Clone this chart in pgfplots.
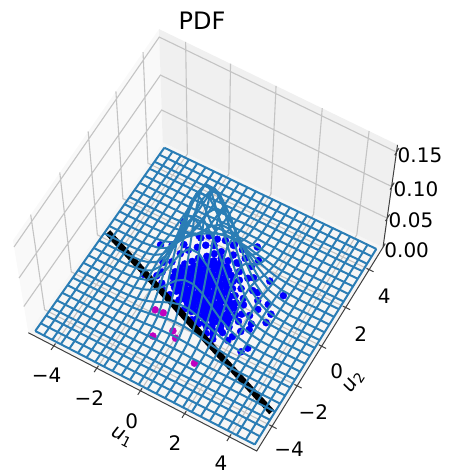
\documentclass[border=0pt]{standalone}
\usepackage{pgfplots}
\usepackage{pgfplotstable}
\usepackage{fontspec}
\setmainfont{DejaVu Sans}
\pgfplotsset{compat=1.18}
\definecolor{wire}{HTML}{2A7DB5}
\definecolor{backw}{HTML}{F0F0F0}
\definecolor{leftw}{HTML}{F9F9F9}
\definecolor{floorw}{HTML}{F6F6F6}
\definecolor{gridc}{HTML}{C4C4C4}
\definecolor{axc}{HTML}{404040}
\definecolor{mag}{HTML}{C000C0}
% projection of (u1,u2,z) on the picture plane
\newcommand\PXe[3]{(219.22*(#1/10.4+0.5)+143.72*(#2/10.4+0.5)+28.3-16.4*((#3)/0.16))/(1-0.03577*(#1/10.4+0.5)+0.05727*(#2/10.4+0.5)-0.0786*((#3)/0.16))}
\newcommand\PYe[3]{(102.17*(#1/10.4+0.5)-182.25*(#2/10.4+0.5)+332.7-123.5*((#3)/0.16))/(1-0.03577*(#1/10.4+0.5)+0.05727*(#2/10.4+0.5)-0.13*((#3)/0.16))}
\pgfplotsset{
 table/abz/.style={x expr={\PXe{\thisrow{a}}{\thisrow{b}}{\thisrow{z}}},y expr={\PYe{\thisrow{a}}{\thisrow{b}}{\thisrow{z}}}},
 table/abneg/.style={x expr={\PXe{\thisrow{a}}{-\thisrow{b}}{\thisrow{z}}},y expr={\PYe{\thisrow{a}}{-\thisrow{b}}{\thisrow{z}}}},
 table/baz/.style={x expr={\PXe{\thisrow{b}}{\thisrow{a}}{\thisrow{z}}},y expr={\PYe{\thisrow{b}}{\thisrow{a}}{\thisrow{z}}}},
 table/bnegaz/.style={x expr={\PXe{-\thisrow{b}}{\thisrow{a}}{\thisrow{z}}},y expr={\PYe{-\thisrow{b}}{\thisrow{a}}{\thisrow{z}}}},
 table/flat/.style={x expr={\PXe{\thisrow{a}}{\thisrow{b}}{0}},y expr={\PYe{\thisrow{a}}{\thisrow{b}}{0}}}
}
\pgfplotstableread{
a b z
-5.2 -5.2 0
5.2 -5.2 0
5.2 5.2 0
-5.2 5.2 0
}\floorpane
\pgfplotstableread{
a b z
-5.2 -5.2 0
-5.2 5.2 0
-5.2 5.2 0.16
-5.2 -5.2 0.16
}\leftpane
\pgfplotstableread{
a b z
-5.2 5.2 0
5.2 5.2 0
5.2 5.2 0.16
-5.2 5.2 0.16
}\backpane
\pgfplotstableread{
a b z
-4 -5.2 0
-4 5.2 0
-4 5.2 0.16
0 0 nan
-2 -5.2 0
-2 5.2 0
-2 5.2 0.16
0 0 nan
0 -5.2 0
0 5.2 0
0 5.2 0.16
0 0 nan
2 -5.2 0
2 5.2 0
2 5.2 0.16
0 0 nan
4 -5.2 0
4 5.2 0
4 5.2 0.16
0 0 nan
5.2 -4 0
-5.2 -4 0
-5.2 -4 0.16
0 0 nan
5.2 -2 0
-5.2 -2 0
-5.2 -2 0.16
0 0 nan
5.2 0 0
-5.2 0 0
-5.2 0 0.16
0 0 nan
5.2 2 0
-5.2 2 0
-5.2 2 0.16
0 0 nan
5.2 4 0
-5.2 4 0
-5.2 4 0.16
0 0 nan
-5.2 -5.2 0.05
-5.2 5.2 0.05
5.2 5.2 0.05
0 0 nan
-5.2 -5.2 0.10
-5.2 5.2 0.10
5.2 5.2 0.10
0 0 nan
-5.2 -5.2 0.15
-5.2 5.2 0.15
5.2 5.2 0.15
}\gridlines
\pgfplotstableread{
a b z
-5.2 -5.2 0
5.2 -5.2 0
5.2 5.2 0
5.2 5.2 0.16
0 0 nan
-4 -5.08 0
-4 -5.4 0
0 0 nan
-2 -5.08 0
-2 -5.4 0
0 0 nan
0 -5.08 0
0 -5.4 0
0 0 nan
2 -5.08 0
2 -5.4 0
0 0 nan
4 -5.08 0
4 -5.4 0
0 0 nan
5.08 -4 0
5.4 -4 0
0 0 nan
5.08 -2 0
5.4 -2 0
0 0 nan
5.08 0 0
5.4 0 0
0 0 nan
5.08 2 0
5.4 2 0
0 0 nan
5.08 4 0
5.4 4 0
0 0 nan
5.2 5.05 0
5.2 5.4 0
0 0 nan
5.2 5.05 0.05
5.2 5.4 0.05
0 0 nan
5.2 5.05 0.10
5.2 5.4 0.10
0 0 nan
5.2 5.05 0.15
5.2 5.4 0.15
}\axlines
\pgfplotstableread{
a b
0.15 -1.5
0.47 -1.53
0.8 -1.47
1.15 -1.52
-0.35 -1.22
-0.05 -1.18
0.3 -1.24
0.6 -1.17
0.95 -1.21
1.3 -1.19
-0.75 -0.97
-0.4 -0.92
-0.1 -0.98
0.25 -0.93
0.55 -0.96
0.85 -0.91
1.2 -0.97
1.5 -0.94
-1.05 -0.68
-0.75 -0.72
-0.45 -0.67
-0.15 -0.73
0.2 -0.69
0.5 -0.71
0.8 -0.66
1.1 -0.72
1.4 -0.7
-1.35 -0.43
-1.05 -0.47
-0.7 -0.42
-0.4 -0.46
-0.1 -0.44
0.25 -0.48
0.55 -0.43
0.9 -0.47
1.25 -0.42
1.55 -0.46
-1.5 -0.18
-1.2 -0.22
-0.9 -0.17
-0.6 -0.21
-0.25 -0.19
0.05 -0.23
0.35 -0.18
0.7 -0.22
1.0 -0.17
1.35 -0.21
-1.55 0.07
-1.25 0.03
-0.95 0.08
-0.6 0.04
-0.3 0.06
0 0.02
0.35 0.07
0.65 0.03
0.95 0.08
1.3 0.04
-1.45 0.32
-1.15 0.28
-0.85 0.33
-0.5 0.27
-0.2 0.31
0.1 0.29
0.4 0.33
0.75 0.28
1.1 0.3
-1.4 0.57
-1.05 0.53
-0.75 0.58
-0.45 0.52
-0.15 0.56
0.2 0.54
0.5 0.58
0.85 0.53
-1.2 0.82
-0.85 0.78
-0.55 0.83
-0.25 0.77
0.05 0.81
0.35 0.79
0.7 0.83
-1.05 1.07
-0.7 1.03
-0.4 1.08
-0.1 1.02
0.2 1.06
0.5 1.04
-0.8 1.32
-0.45 1.28
-0.15 1.33
0.15 1.29
-0.6 1.57
-0.25 1.53
0.05 1.56
-1.2 -0.33
-0.9 -0.33
-0.55 -0.32
-0.25 -0.33
0.1 -0.32
0.4 -0.31
0.75 -0.33
1.1 -0.32
-1.35 -0.07
-1.05 -0.08
-0.75 -0.07
-0.45 -0.08
-0.1 -0.09
0.2 -0.08
0.5 -0.07
0.85 -0.09
1.15 -0.08
-1.3 0.18
-1.0 0.17
-0.7 0.18
-0.35 0.17
-0.05 0.18
0.25 0.18
0.6 0.17
0.9 0.18
-1.2 0.43
-0.9 0.44
-0.6 0.42
-0.3 0.43
0 0.43
0.35 0.44
0.65 0.43
-1 0.68
-0.7 0.67
-0.4 0.68
-0.1 0.67
0.2 0.68
0.5 0.67
-0.85 0.93
-0.55 0.92
-0.25 0.93
0.05 0.92
0.35 0.93
-1.2 -0.57
-0.9 -0.57
-0.6 -0.57
-0.3 -0.58
0.05 -0.57
0.35 -0.58
0.65 -0.57
0.95 -0.58
1.25 -0.57
-0.6 -0.83
-0.25 -0.83
0.1 -0.82
0.4 -0.83
0.7 -0.82
1.0 -0.83
1.35 -0.82
-0.2 -1.07
0.15 -1.08
0.45 -1.07
0.8 -1.08
1.1 -1.07
0.3 -1.38
0.65 -1.37
1.0 -1.38
-0.55 1.17
-0.3 1.18
0 1.17
0.3 1.18
-1.9 0.4
-2.0 -0.2
-1.75 -0.65
-1.8 0.9
-1.6 1.2
-1.35 1.5
-1.1 1.75
-0.8 1.9
-0.4 1.8
0.1 1.9
0.4 1.65
0.7 1.35
0.9 1.0
1.15 0.7
1.45 0.35
1.6 0.1
1.75 -0.3
1.8 -0.65
1.6 -1.05
1.5 -1.4
0.95 -1.75
0.55 -1.85
1.2 -1.65
2.05 -0.2
2.2 0.2
2.0 0.55
1.6 0.85
1.15 1.25
2.3 -0.5
2.1 -1.0
1.85 -1.6
2.45 0.6
1.0 1.8
0.6 2.0
-0.1 2.35
0.3 2.3
-1.2 2.2
-2.2 0.2
-2.3 1.1
-1.45 1.95
-1.2 -0.95
-0.85 -1.2
-0.5 -1.4
-1.55 -0.9
-2.1 -0.45
2.78 1.25
0.76 2.71
1.11 2.18
-2.71 0.86
-2.6 -0.66
-1.89 1.34
-2.48 2.27
-1.56 2.0
-0.84 2.23
-0.52 2.34
-0.12 2.3
1.98 1.57
2.76 0.27
2.78 -0.16
2.71 -1.51
2.56 -1.78
1.93 -1.36
1.31 -1.84
1.36 -1.32
2.35 -0.76
1.81 0.86
1.34 1.38
0.48 1.67
}\bluepts
\pgfplotstableread{
a b
-0.82 -2.89
-1.35 -1.83
-0.25 -2.3
0.01 -2.53
1.22 -3.12
-1.0 -1.79
}\magpts
\pgfplotstableread{
a b
-4.89 0.31
-3 -0.42
-1 -1.2
1 -1.97
3 -2.75
4.89 -3.48
}\blackline
\pgfplotstableread{
a b z
-5 0.2 0
-3.8 0.2 0
-3.4 0.2 0.001
-3 0.2 0.002
-2.6 0.2 0.006
-2.2 0.2 0.015
-1.8 0.2 0.033
-1.4 0.2 0.063
-1 0.2 0.102
-0.6 0.2 0.141
-0.2 0.2 0.162
0.2 0.2 0.162
0.6 0.2 0.141
1 0.2 0.102
1.4 0.2 0.063
1.8 0.2 0.033
2.2 0.2 0.015
2.6 0.2 0.006
3 0.2 0.002
3.4 0.2 0.001
3.8 0.2 0
5 0.2 0
0 0 nan
-5 0.6 0
-3.4 0.6 0
-3 0.6 0.002
-2.6 0.6 0.005
-2.2 0.6 0.013
-1.8 0.6 0.028
-1.4 0.6 0.054
-1 0.6 0.087
-0.6 0.6 0.120
-0.2 0.6 0.141
0.2 0.6 0.141
0.6 0.6 0.120
1 0.6 0.087
1.4 0.6 0.054
1.8 0.6 0.028
2.2 0.6 0.013
2.6 0.6 0.005
3 0.6 0.002
3.4 0.6 0
5 0.6 0
0 0 nan
-5 1 0
-3.4 1 0
-3 1 0.001
-2.6 1 0.004
-2.2 1 0.009
-1.8 1 0.021
-1.4 1 0.039
-1 1 0.063
-0.6 1 0.087
-0.2 1 0.102
0.2 1 0.102
0.6 1 0.087
1 1 0.063
1.4 1 0.039
1.8 1 0.021
2.2 1 0.009
2.6 1 0.004
3 1 0.001
3.4 1 0
5 1 0
0 0 nan
-5 1.4 0
-3.4 1.4 0
-3 1.4 0.001
-2.6 1.4 0.002
-2.2 1.4 0.006
-1.8 1.4 0.013
-1.4 1.4 0.024
-1 1.4 0.039
-0.6 1.4 0.054
-0.2 1.4 0.063
0.2 1.4 0.063
0.6 1.4 0.054
1 1.4 0.039
1.4 1.4 0.024
1.8 1.4 0.013
2.2 1.4 0.006
2.6 1.4 0.002
3 1.4 0.001
3.4 1.4 0
5 1.4 0
0 0 nan
-5 1.8 0
-3 1.8 0
-2.6 1.8 0.001
-2.2 1.8 0.003
-1.8 1.8 0.007
-1.4 1.8 0.013
-1 1.8 0.021
-0.6 1.8 0.028
-0.2 1.8 0.033
0.2 1.8 0.033
0.6 1.8 0.028
1 1.8 0.021
1.4 1.8 0.013
1.8 1.8 0.007
2.2 1.8 0.003
2.6 1.8 0.001
3 1.8 0
5 1.8 0
0 0 nan
-5 2.2 0
-3 2.2 0
-2.6 2.2 0.001
-2.2 2.2 0.001
-1.8 2.2 0.003
-1.4 2.2 0.006
-1 2.2 0.009
-0.6 2.2 0.013
-0.2 2.2 0.015
0.2 2.2 0.015
0.6 2.2 0.013
1 2.2 0.009
1.4 2.2 0.006
1.8 2.2 0.003
2.2 2.2 0.001
2.6 2.2 0.001
3 2.2 0
5 2.2 0
0 0 nan
-5 2.6 0
-2.6 2.6 0
-2.2 2.6 0.001
-1.8 2.6 0.001
-1.4 2.6 0.002
-1 2.6 0.004
-0.6 2.6 0.005
-0.2 2.6 0.006
0.2 2.6 0.006
0.6 2.6 0.005
1 2.6 0.004
1.4 2.6 0.002
1.8 2.6 0.001
2.2 2.6 0.001
2.6 2.6 0
5 2.6 0
0 0 nan
-5 3 0
-1.8 3 0
-1.4 3 0.001
-1 3 0.001
-0.6 3 0.002
-0.2 3 0.002
0.2 3 0.002
0.6 3 0.002
1 3 0.001
1.4 3 0.001
1.8 3 0
5 3 0
0 0 nan
-5 3.4 0
-0.6 3.4 0
-0.2 3.4 0.001
0.2 3.4 0.001
0.6 3.4 0
5 3.4 0
0 0 nan
-5 3.8 0
5 3.8 0
0 0 nan
-5 4.2 0
5 4.2 0
0 0 nan
-5 4.6 0
5 4.6 0
0 0 nan
-5 5 0
5 5 0
}\wiretab
\newcommand\lab{\fontsize{20}{24}\selectfont}
\begin{document}
\begin{tikzpicture}
\path[use as bounding box] (0,0) rectangle (449pt,474pt);
\begin{axis}[at={(0,0)},anchor=south west,scale only axis,width=449pt,height=474pt,
 xmin=0,xmax=449,ymin=0,ymax=474,y dir=reverse,hide axis,clip=false,clip marker paths=true,unbounded coords=jump]
\addplot[fill=floorw,draw=none] table[abz]{\floorpane};
\addplot[fill=leftw,draw=none] table[abz]{\leftpane};
\addplot[fill=backw,draw=none] table[abz]{\backpane};
\addplot[gridc,line width=1.1pt] table[abz]{\gridlines};
\addplot[axc,line width=1pt] table[abz]{\axlines};
\addplot[only marks,mark=*,mark size=3.5pt,color=mag] table[flat]{\magpts};
\addplot[only marks,mark=*,mark size=3.5pt,color=blue] table[flat]{\bluepts};
\addplot[black,line width=6.5pt] table[flat]{\blackline};
\addplot[wire,line width=2pt] table[abz]{\wiretab};
\addplot[wire,line width=2pt] table[abneg]{\wiretab};
\addplot[wire,line width=2pt] table[baz]{\wiretab};
\addplot[wire,line width=2pt] table[bnegaz]{\wiretab};
\node[font=\fontsize{24}{28}\selectfont] at (axis cs:202,21) {PDF};
\node[font=\lab] at (axis cs:420,155.7) {0.15};
\node[font=\lab] at (axis cs:416,189.3) {0.10};
\node[font=\lab] at (axis cs:411,220.7) {0.05};
\node[font=\lab] at (axis cs:406.7,250.7) {0.00};
\node[font=\lab] at (axis cs:46.7,375) {−4};
\node[font=\lab] at (axis cs:89.3,398.3) {−2};
\node[font=\lab] at (axis cs:131.7,421.7) {0};
\node[font=\lab] at (axis cs:175,443.3) {2};
\node[font=\lab] at (axis cs:221,463.5) {4};
\node[font=\lab] at (axis cs:384.3,296.7) {4};
\node[font=\lab] at (axis cs:360.7,334) {2};
\node[font=\lab] at (axis cs:336.7,371.7) {0};
\node[font=\lab] at (axis cs:313.3,411.7) {−2};
\node[font=\lab] at (axis cs:289,449) {−4};
\node[font=\lab,rotate=-27] at (axis cs:121.7,437.3) {\textit{u}\textsubscript{1}};
\node[font=\lab,rotate=57] at (axis cs:354,382.3) {\textit{u}\textsubscript{2}};
\end{axis}
\end{tikzpicture}
\end{document}
